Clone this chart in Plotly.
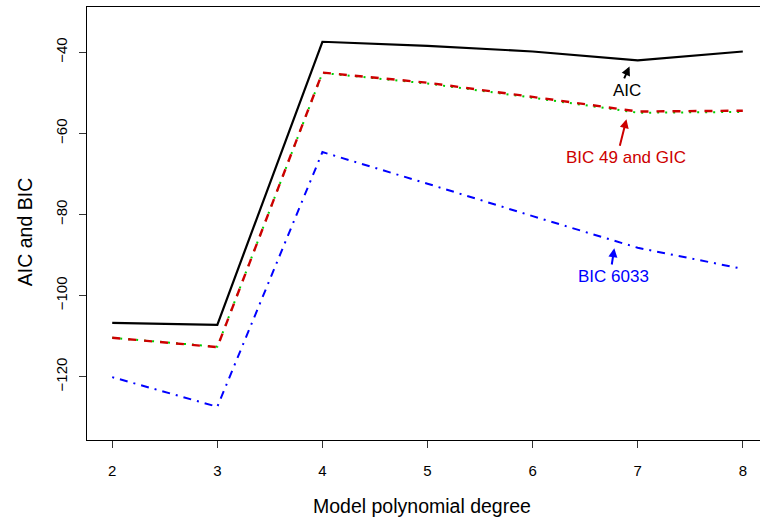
import plotly.graph_objects as go

degree = [2, 3, 4, 5, 6, 7, 8]
aic = [-106.7, -107.2, -37.4, -38.4, -39.8, -42.0, -39.8]
bic49 = [-110.4, -112.7, -45.0, -47.5, -51.0, -54.6, -54.4]
gic = [-110.4, -112.6, -45.1, -47.7, -51.2, -54.9, -54.7]
bic6033 = [-120.1, -127.4, -64.6, -72.4, -80.4, -88.2, -93.4]

x_ticks = [2, 3, 4, 5, 6, 7, 8]
y_ticks = [-120, -100, -80, -60, -40]

# label text, text position, arrow tail, arrow head, colour
labels = [
    ("AIC", (6.898, -49.5), (6.865, -46.8), (6.922, -43.5), "black"),
    ("BIC 49 and GIC", (6.891, -66.0), (6.826, -63.4), (6.893, -56.5), "#CD0000"),
    ("BIC 6033", (6.767, -95.4), (6.751, -92.7), (6.777, -88.3), "#0000FF"),
]

FONT = "Liberation Sans, Arial, Helvetica, sans-serif"

fig = go.Figure()
fig.add_trace(go.Scatter(x=degree, y=aic, mode="lines",
                         line=dict(color="black", width=2.2)))
fig.add_trace(go.Scatter(x=degree, y=gic, mode="lines",
                         line=dict(color="#00CD00", width=2, dash="2px,6px")))
fig.add_trace(go.Scatter(x=degree, y=bic49, mode="lines",
                         line=dict(color="#CD0000", width=2.4, dash="8px,8px")))
fig.add_trace(go.Scatter(x=degree, y=bic6033, mode="lines",
                         line=dict(color="#0000FF", width=2, dash="2px,6px,8px,6px")))

annotations = []
for text, tpos, tail, head, col in labels:
    annotations.append(dict(x=head[0], y=head[1], ax=tail[0], ay=tail[1],
                            xref="x", yref="y", axref="x", ayref="y",
                            text="", showarrow=True, arrowhead=2, arrowsize=0.9,
                            arrowwidth=2, arrowcolor=col))
    annotations.append(dict(x=tpos[0], y=tpos[1], xref="x", yref="y",
                            text=text, showarrow=False,
                            font=dict(family=FONT, size=17, color=col),
                            xanchor="center", yanchor="middle"))

annotations.append(dict(x=0.498, y=0, xref="paper", yref="paper",
                        yshift=-66, text="Model polynomial degree", showarrow=False,
                        font=dict(family=FONT, size=19.5, color="black"),
                        xanchor="center", yanchor="middle"))
annotations.append(dict(x=0, y=0.48, xref="paper", yref="paper",
                        xshift=-62, text="AIC and BIC", showarrow=False, textangle=-90,
                        font=dict(family=FONT, size=19.5, color="black"),
                        xanchor="center", yanchor="middle"))

plot_w = 760 - 87
x0 = 2 - 0.24
x1 = x0 + plot_w / 105.1

fig.update_layout(
    width=760, height=520,
    margin=dict(l=87, r=0, t=7, b=80),
    paper_bgcolor="white", plot_bgcolor="white",
    showlegend=False,
    font=dict(family=FONT, color="black"),
    annotations=annotations,
    xaxis=dict(range=[x0, x1], tickvals=x_ticks, ticktext=[str(v) for v in x_ticks],
               showgrid=False, zeroline=False, showline=True, linecolor="black",
               linewidth=1, mirror=True, ticks="outside", ticklen=7, tickwidth=1,
               tickcolor="#333", tickfont=dict(size=15, family=FONT, color="black"),
               ticklabelstandoff=10),
    yaxis=dict(range=[-135.6, -28.83], tickvals=y_ticks,
               ticktext=["\u2212" + str(-v) if v < 0 else str(v) for v in y_ticks],
               showgrid=False, zeroline=False, showline=True, linecolor="black",
               linewidth=1, ticks="outside", ticklen=7, tickwidth=1, tickcolor="#333",
               tickangle=-90, tickfont=dict(size=15, family=FONT, color="black"),
               ticklabelstandoff=6),
)

fig.write_html("out.html")
